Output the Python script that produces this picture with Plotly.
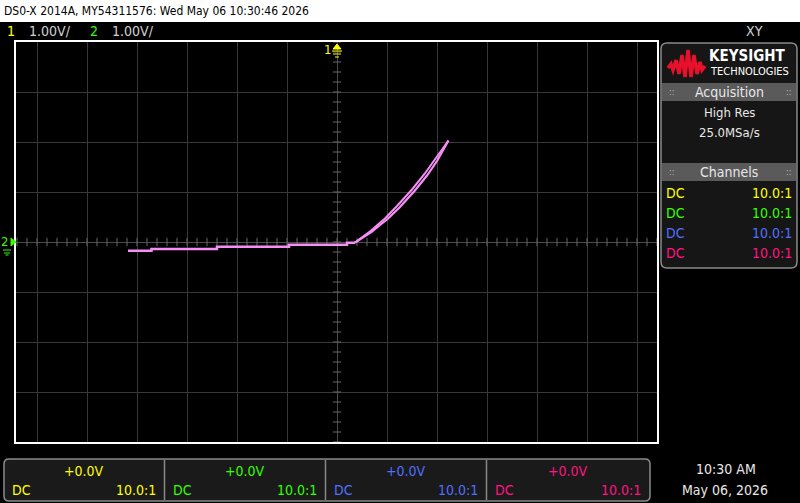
import plotly.graph_objects as go

W, H = 800, 503
FONT = "DejaVu Sans Condensed, Liberation Sans, sans-serif"

# XY trace (volts, 1 V/div on both channels)
flat_x = [-4.18, -3.71, -2.40, -0.96, 0.20, 0.36]
flat_y = [-0.175, -0.14, -0.093, -0.053, -0.013, -0.013]
rise_x = [0.36, 0.53, 0.70, 0.86, 1.00, 1.25, 1.55, 1.80, 2.00, 2.23]
rise_y = [-0.013, 0.09, 0.21, 0.34, 0.45, 0.69, 1.02, 1.33, 1.62, 2.03]
back_x = [0.36, 0.52, 0.67, 0.82, 0.96, 1.20, 1.50, 1.75, 1.96, 2.23]
back_y = [-0.013, 0.10, 0.22, 0.35, 0.47, 0.72, 1.05, 1.36, 1.65, 2.03]

channels = ['1', '2', '3', '4']
ch_colors = ['#ffff00', '#33ff00', '#5070ff', '#ff1480']
ch_scale = ['1.00V/', '1.00V/']
ch_offset = ['+0.0V', '+0.0V', '+0.0V', '+0.0V']
ch_coupling = ['DC', 'DC', 'DC', 'DC']
ch_probe = ['10.0:1', '10.0:1', '10.0:1', '10.0:1']

header = "DS0-X 2014A, MY54311576: Wed May 06 10:30:46 2026"
acq_mode = "High Res"
acq_rate = "25.0MSa/s"
clock_time = "10:30 AM"
clock_date = "May 06, 2026"
trace_color = '#f58ef5'


def px(x):
    return x / W


def py(y):
    return 1 - y / H


def rrect(x0, y0, x1, y1, r):
    # rounded rectangle path in paper coords, pixel inputs
    pts = [
        f"M {px(x0 + r)} {py(y0)}", f"L {px(x1 - r)} {py(y0)}",
        f"Q {px(x1)} {py(y0)} {px(x1)} {py(y0 + r)}", f"L {px(x1)} {py(y1 - r)}",
        f"Q {px(x1)} {py(y1)} {px(x1 - r)} {py(y1)}", f"L {px(x0 + r)} {py(y1)}",
        f"Q {px(x0)} {py(y1)} {px(x0)} {py(y1 - r)}", f"L {px(x0)} {py(y0 + r)}",
        f"Q {px(x0)} {py(y0)} {px(x0 + r)} {py(y0)}", "Z",
    ]
    return " ".join(pts)


def poly(points, close=True):
    s = " ".join(("M" if i == 0 else "L") + f" {px(x)} {py(y)}" for i, (x, y) in enumerate(points))
    return s + (" Z" if close else "")


fig = go.Figure()

# center-axis tick marks every 0.2 div
tx = [i * 0.2 for i in range(-32, 33)]
ty = [i * 0.2 for i in range(-20, 21)]
fig.add_trace(go.Scatter(x=tx, y=[0] * len(tx), mode='markers', hoverinfo='skip',
                         marker=dict(symbol='line-ns', size=6, line=dict(width=1, color='#666'))))
fig.add_trace(go.Scatter(x=[0] * len(ty), y=ty, mode='markers', hoverinfo='skip',
                         marker=dict(symbol='line-ew', size=6, line=dict(width=1, color='#666'))))

fig.add_trace(go.Scatter(x=flat_x, y=flat_y, mode='lines', line=dict(color=trace_color, width=2.5, shape='hv')))
fig.add_trace(go.Scatter(x=rise_x, y=rise_y, mode='lines', line=dict(color=trace_color, width=2.2)))
fig.add_trace(go.Scatter(x=back_x, y=back_y, mode='lines', line=dict(color=trace_color, width=2)))

shapes = []
# white title band
shapes.append(dict(type='rect', xref='paper', yref='paper', x0=0, x1=1, y0=py(22), y1=1,
                   fillcolor='white', line=dict(width=0), layer='below'))
# right info panel
shapes.append(dict(type='path', xref='paper', yref='paper', path=rrect(661, 43, 797, 268, 6),
                   fillcolor='#161616', line=dict(color='#8a8a8a', width=1.5)))
for y0, y1 in [(83, 101), (163, 181)]:
    shapes.append(dict(type='rect', xref='paper', yref='paper', x0=px(662), x1=px(796), y0=py(y1), y1=py(y0),
                       fillcolor='#5a5a5a', line=dict(width=0)))
# keysight wave logo
wave = [(668, 68), (671, 64), (673, 70), (676, 60), (679, 74), (682, 55), (685, 77),
        (688, 50), (691, 77), (694, 55), (697, 74), (700, 62), (702, 70), (705, 66)]
shapes.append(dict(type='path', xref='paper', yref='paper', path=poly(wave, close=False),
                   line=dict(color='#e8102a', width=3.5)))
# bottom channel bar
shapes.append(dict(type='path', xref='paper', yref='paper', path=rrect(4, 459, 650, 501, 5),
                   fillcolor='#1a1a1a', line=dict(color='#8a8a8a', width=1.5)))
for xd in [164.5, 325.5, 486.5]:
    shapes.append(dict(type='line', xref='paper', yref='paper', x0=px(xd), x1=px(xd), y0=py(460), y1=py(500),
                       line=dict(color='#8a8a8a', width=1.5)))
# ground markers
shapes.append(dict(type='path', xref='paper', yref='paper', path=poly([(333, 49), (341, 49), (337, 44)]),
                   fillcolor=ch_colors[0], line=dict(color=ch_colors[0], width=1)))
for yy, hw in [(51, 5), (54, 4), (57, 2)]:
    shapes.append(dict(type='line', xref='paper', yref='paper', x0=px(337 - hw), x1=px(337 + hw),
                       y0=py(yy), y1=py(yy), line=dict(color=ch_colors[0], width=1)))
shapes.append(dict(type='path', xref='paper', yref='paper', path=poly([(11, 238), (11, 246), (16, 242)]),
                   fillcolor=ch_colors[1], line=dict(color=ch_colors[1], width=1)))
for yy, hw in [(250, 4), (253, 3), (255, 1.5)]:
    shapes.append(dict(type='line', xref='paper', yref='paper', x0=px(7 - hw), x1=px(7 + hw),
                       y0=py(yy), y1=py(yy), line=dict(color=ch_colors[1], width=1)))

ann = []


def text(x, y, s, color='#e0e0e0', size=14, anchor='left', bold=False):
    if bold:
        s = '<b>' + s + '</b>'
    ann.append(dict(x=px(x), y=py(y), xref='paper', yref='paper', text=s, showarrow=False,
                    xanchor=anchor, yanchor='middle', font=dict(family=FONT, size=size, color=color)))


text(2, 11, header, color='black', size=12)
text(5, 31, channels[0], ch_colors[0], 14)
text(27, 31, ch_scale[0], '#d0d0d0', 14)
text(88, 31, channels[1], ch_colors[1], 14)
text(110, 31, ch_scale[1], '#d0d0d0', 14)
text(765, 31, 'XY', '#d0d0d0', 14, 'right')
text(333, 49, channels[0], ch_colors[0], 13, 'right')
text(-1, 242, channels[1], ch_colors[1], 13)

text(707, 56, 'KEYSIGHT', 'white', 15, bold=True)
text(708, 71, 'TECHNOLOGIES', 'white', 11)
text(729, 92, 'Acquisition', '#e8e8e8', 14, 'center')
text(667, 92, '::', '#bbbbbb', 9)
text(793, 92, '::', '#bbbbbb', 9, 'right')
text(729, 113, acq_mode, '#e8e8e8', 13, 'center')
text(729, 133, acq_rate, '#e8e8e8', 13, 'center')
text(729, 172, 'Channels', '#e8e8e8', 14, 'center')
text(667, 172, '::', '#bbbbbb', 9)
text(793, 172, '::', '#bbbbbb', 9, 'right')
for i in range(4):
    yy = 193 + 20 * i
    text(664, yy, ch_coupling[i], ch_colors[i], 14)
    text(794, yy, ch_probe[i], ch_colors[i], 14, 'right')

cells = [(4, 164.5), (164.5, 325.5), (325.5, 486.5), (486.5, 650)]
for i, (a, b) in enumerate(cells):
    text((a + b) / 2, 471, ch_offset[i], ch_colors[i], 14, 'center')
    text(a + 6, 490, ch_coupling[i], ch_colors[i], 14)
    text(b - 7, 490, ch_probe[i], ch_colors[i], 14, 'right')

text(726, 469, clock_time, '#e8e8e8', 14, 'center')
text(725, 490, clock_date, '#e8e8e8', 14, 'center')

fig.update_layout(
    width=W, height=H,
    margin=dict(l=0, r=0, t=0, b=0),
    paper_bgcolor='black',
    plot_bgcolor='black',
    showlegend=False,
    shapes=shapes,
    annotations=ann,
    xaxis=dict(domain=[px(16), px(657)], range=[-6.42, 6.40], tick0=0, dtick=1,
               showgrid=True, gridcolor='#383838', gridwidth=1,
               zeroline=True, zerolinecolor='#4a4a4a', zerolinewidth=1,
               showticklabels=False, ticks='',
               showline=True, linecolor='white', linewidth=2, mirror=True, fixedrange=True),
    yaxis=dict(domain=[py(442), py(42)], range=[-4, 4], tick0=0, dtick=1,
               showgrid=True, gridcolor='#383838', gridwidth=1,
               zeroline=True, zerolinecolor='#4a4a4a', zerolinewidth=1,
               showticklabels=False, ticks='',
               showline=True, linecolor='white', linewidth=2, mirror=True, fixedrange=True),
)

fig.write_html("out.html", config={'displayModeBar': False},
               post_script="document.body.style.margin='0';")
